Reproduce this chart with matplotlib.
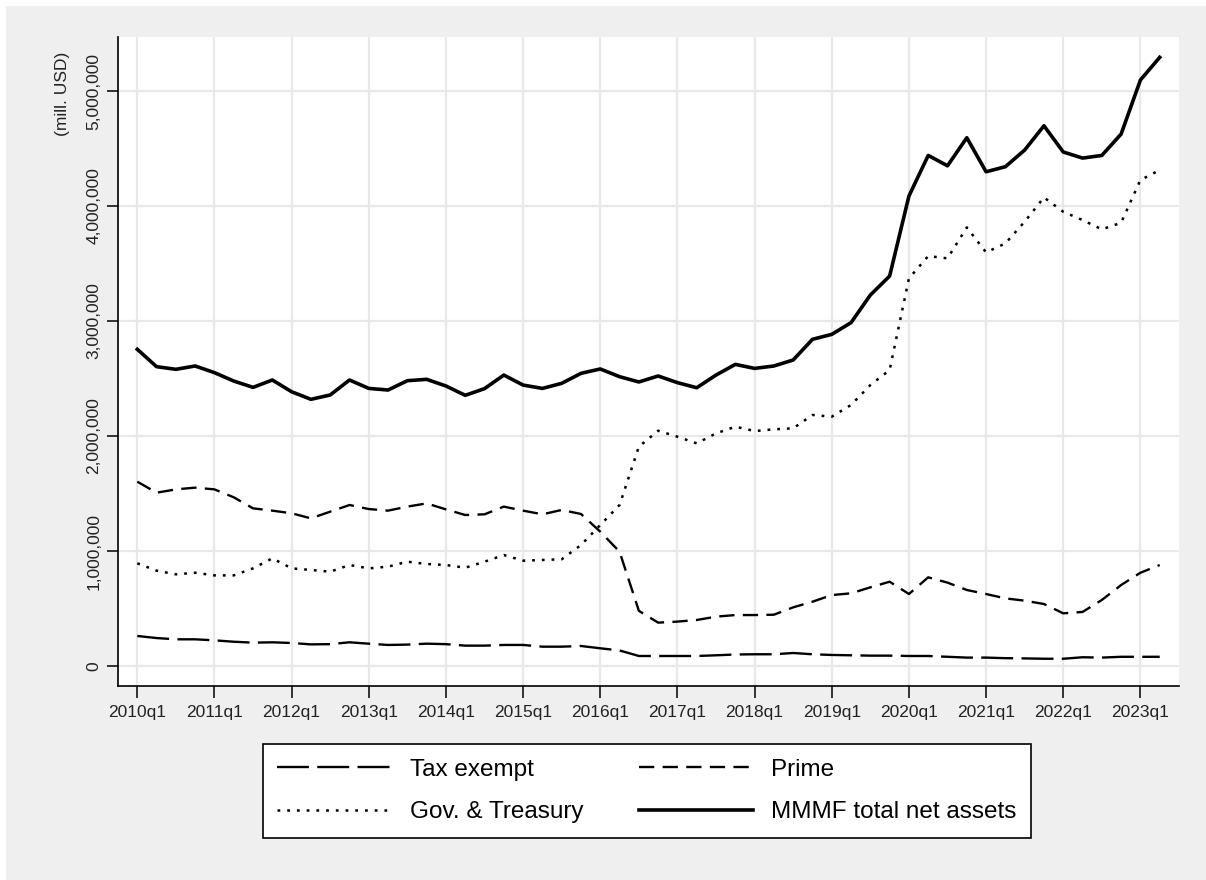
import matplotlib
matplotlib.use("Agg")
import matplotlib.pyplot as plt
from matplotlib.patches import Rectangle
from matplotlib.ticker import FuncFormatter

plt.rcParams['font.family'] = ['Liberation Sans', 'DejaVu Sans']
plt.rcParams['lines.scale_dashes'] = False

# quarterly data, 2010q1 .. 2023q2 (mill. USD)
years = list(range(2010, 2024))
quarters = [f"{y}q{q}" for y in years for q in range(1, 5)][:54]

tax_exempt = [261000, 243000, 232000, 232000, 223000, 211000, 203000, 206000,
              200000, 188000, 190000, 206000, 194000, 183000, 186000, 194000,
              190000, 177000, 177000, 183000, 183000, 168000, 168000, 174000,
              154000, 135000, 87000, 87000, 87000, 87000, 93000, 100000,
              102000, 102000, 113000, 102000, 96000, 93000, 90000, 90000,
              87000, 87000, 80000, 73000, 73000, 68000, 66000, 63000,
              63000, 76000, 73000, 80000, 80000, 80000]

prime = [1603000, 1507000, 1536000, 1551000, 1536000, 1467000, 1371000, 1351000,
         1328000, 1284000, 1342000, 1400000, 1365000, 1351000, 1386000, 1414000,
         1362000, 1313000, 1319000, 1386000, 1351000, 1319000, 1357000, 1322000,
         1168000, 994000, 480000, 377000, 386000, 400000, 429000, 443000,
         443000, 446000, 510000, 559000, 617000, 632000, 684000, 733000,
         626000, 771000, 725000, 661000, 626000, 588000, 568000, 539000,
         458000, 470000, 574000, 704000, 811000, 878000]

gov_treasury = [893000, 829000, 797000, 811000, 788000, 788000, 849000, 936000,
                849000, 835000, 820000, 878000, 849000, 864000, 907000, 887000,
                878000, 855000, 907000, 965000, 916000, 922000, 928000, 1052000,
                1226000, 1400000, 1907000, 2046000, 1994000, 1936000, 2023000, 2081000,
                2043000, 2058000, 2067000, 2183000, 2168000, 2270000, 2443000, 2574000,
                3371000, 3565000, 3545000, 3814000, 3597000, 3675000, 3864000, 4075000,
                3950000, 3878000, 3797000, 3855000, 4226000, 4313000]

total = [2754000, 2603000, 2580000, 2609000, 2551000, 2478000, 2423000, 2487000,
         2385000, 2319000, 2357000, 2487000, 2414000, 2400000, 2481000, 2493000,
         2435000, 2354000, 2412000, 2530000, 2443000, 2414000, 2458000, 2545000,
         2583000, 2516000, 2470000, 2522000, 2464000, 2420000, 2530000, 2623000,
         2588000, 2609000, 2661000, 2841000, 2884000, 2986000, 3226000, 3391000,
         4087000, 4440000, 4350000, 4594000, 4298000, 4342000, 4487000, 4698000,
         4470000, 4417000, 4440000, 4626000, 5096000, 5293000]

y_ticks = [0, 1000000, 2000000, 3000000, 4000000, 5000000]
series_labels = ["Tax exempt", "Prime", "Gov. & Treasury", "MMMF total net assets"]

W, H = 1206, 880
fig = plt.figure(figsize=(W / 100, H / 100), dpi=100, facecolor='white')
# gray background region (white strip at top/left)
fig.patches.append(Rectangle((6 / W, 0), 1, 1 - 6 / H, transform=fig.transFigure,
                             facecolor='#efefef', edgecolor='none', zorder=-10))

ax = fig.add_axes([118 / W, 1 - 686 / H, (1179 - 118) / W, (686 - 37) / H])
ax.set_facecolor('white')

x = list(range(len(quarters)))
ax.plot(x, tax_exempt, color='black', lw=1.7, linestyle=(0, (23, 6)),
        label=series_labels[0], dash_capstyle='butt')
ax.plot(x, gov_treasury, color='black', lw=1.8, linestyle=(0, (2, 5)),
        label=series_labels[2], dash_capstyle='butt')
ax.plot(x, prime, color='black', lw=1.7, linestyle=(0, (11, 6)),
        label=series_labels[1], dash_capstyle='butt')
ax.plot(x, total, color='black', lw=2.6, linestyle='-',
        label=series_labels[3])

ax.set_xlim(-1, 54)
ax.set_ylim(-174000, 5470000)

xt = list(range(0, len(quarters), 4))
ax.set_xticks(xt)
ax.set_xticklabels([quarters[i] for i in xt])
ax.set_yticks(y_ticks)
ax.yaxis.set_major_formatter(FuncFormatter(lambda v, p: f"{int(v):,}"))

ax.grid(True, color='#e8e8e8', lw=1.6)
ax.set_axisbelow(True)
for s in ['top', 'right']:
    ax.spines[s].set_visible(False)
for s in ['left', 'bottom']:
    ax.spines[s].set_linewidth(1.2)
    ax.spines[s].set_color('black')

ax.tick_params(axis='x', length=8.5, width=1.1, pad=5, labelsize=12.5, labelcolor='#222222')
ax.tick_params(axis='y', length=8, width=1.1, pad=4, labelsize=12.5, labelcolor='#222222')
for lab in ax.get_yticklabels():
    lab.set_rotation(90)
    lab.set_va('center')

fig.text(62 / W, 1 - 52 / H, "(mill. USD)", rotation=90, ha='center', va='top',
         fontsize=12.5, color='#222222')

handles, labels = ax.get_legend_handles_labels()
leg = fig.legend(handles, labels, ncol=2, loc='center',
                 bbox_to_anchor=(647 / W, 1 - 791 / H),
                 fontsize=17.5, frameon=True, fancybox=False, edgecolor='black',
                 framealpha=1, handlelength=4.7, handletextpad=0.75,
                 columnspacing=2.3, borderpad=0.6, labelspacing=0.85)
leg.get_frame().set_linewidth(1.2)

fig.savefig("out.png", dpi=100, facecolor=fig.get_facecolor())
